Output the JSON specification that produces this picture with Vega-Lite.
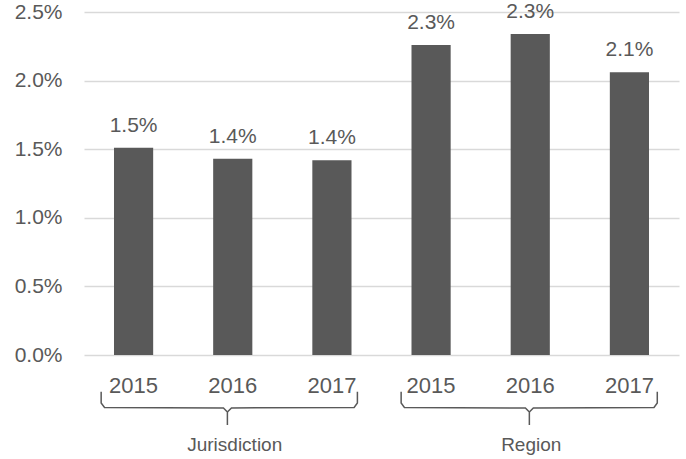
{
  "$schema": "https://vega.github.io/schema/vega-lite/v6.json",
  "width": 595,
  "height": 343,
  "autosize": "none",
  "padding": {"left": 84, "top": 12, "right": 7, "bottom": 104},
  "background": "white",
  "config": {
    "view": {"stroke": null},
    "font": "Liberation Sans",
    "axis": {"labelColor": "#595959", "labelFont": "Liberation Sans"}
  },
  "datasets": {
    "bars": [
      {"cat": "J2015", "group": "Jurisdiction", "year": "2015", "value": 0.0151},
      {"cat": "J2016", "group": "Jurisdiction", "year": "2016", "value": 0.0143},
      {"cat": "J2017", "group": "Jurisdiction", "year": "2017", "value": 0.0142},
      {"cat": "R2015", "group": "Region", "year": "2015", "value": 0.0226},
      {"cat": "R2016", "group": "Region", "year": "2016", "value": 0.0234},
      {"cat": "R2017", "group": "Region", "year": "2017", "value": 0.0206}
    ],
    "bracket": [
      {"part": "J-left", "ord": 1, "bx": 0.173, "by": -0.00267},
      {"part": "J-left", "ord": 2, "bx": 0.173, "by": -0.0035},
      {"part": "J-left", "ord": 3, "bx": 0.207, "by": -0.00382},
      {"part": "J-left", "ord": 4, "bx": 1.406, "by": -0.00386},
      {"part": "J-left", "ord": 5, "bx": 1.446, "by": -0.00415},
      {"part": "J-left", "ord": 6, "bx": 1.446, "by": -0.0051},
      {"part": "J-right", "ord": 1, "bx": 2.757, "by": -0.00267},
      {"part": "J-right", "ord": 2, "bx": 2.757, "by": -0.0035},
      {"part": "J-right", "ord": 3, "bx": 2.724, "by": -0.00382},
      {"part": "J-right", "ord": 4, "bx": 1.487, "by": -0.00386},
      {"part": "J-right", "ord": 5, "bx": 1.446, "by": -0.00415},
      {"part": "R-left", "ord": 1, "bx": 3.198, "by": -0.00267},
      {"part": "R-left", "ord": 2, "bx": 3.198, "by": -0.0035},
      {"part": "R-left", "ord": 3, "bx": 3.231, "by": -0.00382},
      {"part": "R-left", "ord": 4, "bx": 4.451, "by": -0.00386},
      {"part": "R-left", "ord": 5, "bx": 4.491, "by": -0.00415},
      {"part": "R-left", "ord": 6, "bx": 4.491, "by": -0.0051},
      {"part": "R-right", "ord": 1, "bx": 5.781, "by": -0.00267},
      {"part": "R-right", "ord": 2, "bx": 5.781, "by": -0.0035},
      {"part": "R-right", "ord": 3, "bx": 5.748, "by": -0.00382},
      {"part": "R-right", "ord": 4, "bx": 4.531, "by": -0.00386},
      {"part": "R-right", "ord": 5, "bx": 4.491, "by": -0.00415}
    ],
    "groups": [
      {"name": "Jurisdiction", "gx": 1.52, "gy": -0.00702},
      {"name": "Region", "gx": 4.51, "gy": -0.00702}
    ]
  },
  "layer": [
    {
      "data": {"name": "bars"},
      "encoding": {
        "x": {
          "field": "cat", "type": "nominal", "sort": null,
          "scale": {"type": "band", "paddingInner": 0.605, "paddingOuter": 0.3025},
          "axis": {
            "title": null, "labelExpr": "substring(datum.value, 1)",
            "labelAngle": 0, "labelFontSize": 22, "ticks": false, "domain": false,
            "labelPadding": 37, "labelBaseline": "alphabetic"
          }
        },
        "y": {
          "field": "value", "type": "quantitative",
          "scale": {"domain": [0, 0.025], "nice": false},
          "axis": {
            "title": null, "format": ".1%", "values": [0, 0.005, 0.01, 0.015, 0.02, 0.025],
            "labelFontSize": 21, "ticks": false, "domain": false, "labelPadding": 22,
            "gridColor": "#d9d9d9", "gridWidth": 1.5
          }
        }
      },
      "layer": [
        {"mark": {"type": "bar", "color": "#595959"}},
        {
          "mark": {"type": "text", "baseline": "alphabetic", "dy": -16, "fontSize": 21, "color": "#595959"},
          "encoding": {"text": {"field": "value", "type": "quantitative", "format": ".1%"}}
        }
      ]
    },
    {
      "encoding": {
        "x": {"type": "quantitative", "scale": {"domain": [0, 6], "nice": false, "zero": false}, "axis": null}
      },
      "layer": [
        {
          "data": {"name": "bracket"},
          "mark": {"type": "line", "color": "#595959", "strokeWidth": 1.5, "clip": false},
          "encoding": {
            "x": {"field": "bx", "type": "quantitative", "scale": {"domain": [0, 6], "nice": false, "zero": false}, "axis": null},
            "y": {"field": "by", "type": "quantitative"},
            "detail": {"field": "part"},
            "order": {"field": "ord", "type": "quantitative"}
          }
        },
        {
          "data": {"name": "groups"},
          "mark": {"type": "text", "baseline": "alphabetic", "fontSize": 19, "color": "#595959"},
          "encoding": {
            "x": {"field": "gx", "type": "quantitative", "scale": {"domain": [0, 6], "nice": false, "zero": false}, "axis": null},
            "y": {"field": "gy", "type": "quantitative"},
            "text": {"field": "name"}
          }
        }
      ]
    }
  ],
  "resolve": {"scale": {"x": "independent"}, "axis": {"x": "independent"}}
}
